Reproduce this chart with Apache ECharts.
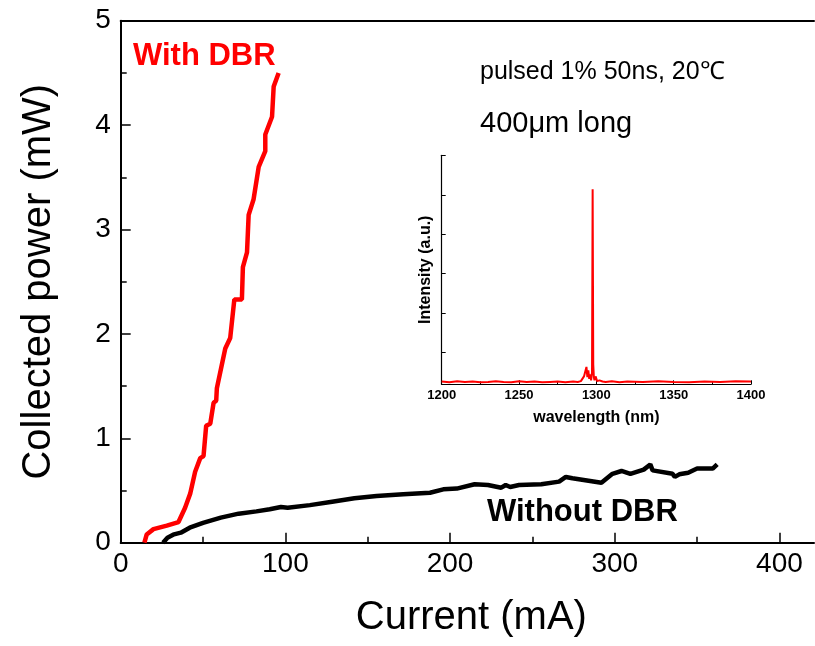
<!DOCTYPE html>
<html>
<head>
<meta charset="utf-8">
<script src="https://cdn.jsdelivr.net/npm/echarts@6/dist/echarts.min.js"></script>
<style>html,body{margin:0;padding:0;background:#fff}#c{width:815px;height:646px}</style>
</head>
<body>
<div id="c"></div>
<script>
// Main chart: with DBR (red)
const withDbrCurrent = [14.4,15.8,19.9,28.0,35.1,39.1,42.2,45.2,48.3,50.3,51.9,54.4,56.4,58.0,58.4,63.5,66.5,69.0,73.6,74.2,76.7,77.7,80.7,83.8,87.8,87.8,91.9,92.9,95.9];
const withDbrPower   = [0,0.079,0.13,0.164,0.198,0.335,0.47,0.68,0.81,0.83,1.12,1.14,1.34,1.36,1.48,1.86,1.96,2.33,2.33,2.64,2.78,3.14,3.29,3.60,3.75,3.91,4.08,4.37,4.50];
// Main chart: without DBR (black)
const withoutDbrCurrent = [25.7,28.4,32.4,36.5,41.9,50.0,60.8,71.6,82.4,90.5,97.3,101.4,114.9,128.4,141.9,155.4,171.6,187.8,195.9,204.1,214.9,223.0,231.1,233.8,236.5,241.9,255.4,266.2,270.3,274.3,291.9,298.6,304.1,309.5,317.6,321.6,323.0,335.1,336.5,339.2,344.6,350.0,359.5,362.2];
const withoutDbrPower   = [0,0.048,0.08,0.096,0.144,0.19,0.24,0.278,0.30,0.32,0.342,0.335,0.36,0.393,0.425,0.447,0.463,0.479,0.511,0.518,0.56,0.553,0.527,0.553,0.534,0.553,0.559,0.585,0.63,0.617,0.575,0.66,0.687,0.66,0.70,0.75,0.693,0.66,0.63,0.655,0.67,0.71,0.71,0.75];
// Inset spectrum
const specWavelength = [1200,1205,1210,1215,1220,1225,1230,1235,1240,1245,1250,1255,1260,1265,1270,1275,1280,1285,1288,1290,1291,1292,1293,1293.6,1294.2,1294.8,1295.4,1296,1296.6,1297.2,1297.6,1298.0,1298.4,1298.8,1299.5,1300.5,1302,1304,1306,1310,1315,1320,1330,1340,1350,1360,1370,1380,1390,1400];
const specIntensity  = [-0.73,-0.75,-0.72,-0.74,-0.73,-0.75,-0.74,-0.72,-0.74,-0.75,-0.72,-0.74,-0.73,-0.75,-0.74,-0.73,-0.75,-0.73,-0.74,-0.72,-0.68,-0.60,-0.56,-0.36,-0.62,-0.45,-0.66,-0.55,-0.70,-0.50,4.14,-0.30,-0.62,-0.70,-0.60,-0.72,-0.70,-0.73,-0.74,-0.72,-0.75,-0.73,-0.74,-0.72,-0.74,-0.75,-0.73,-0.74,-0.72,-0.73];
// Tick labels
const mainXTicks = [0,100,200,300,400];
const mainXMinor = [50,150,250,350];
const mainYTicks = [0,1,2,3,4,5];
const insetXTicks = [1200,1250,1300,1350,1400];
const insetYTicks = [0,1,2,3,4,5];

const F = "'Liberation Sans', Arial, sans-serif";
const zip = (a,b) => a.map((v,i)=>[v,b[i]]);

const chart = echarts.init(document.getElementById('c'));
chart.setOption({
  animation:false,
  backgroundColor:'#fff',
  grid:[
    {left:120.7, top:20.7, right:1, bottom:103.3},
    {left:441.7, top:155.3, right:64, bottom:261.7}
  ],
  xAxis:[
    {gridIndex:0, type:'value', min:0, max:421, position:'bottom',
     name:'Current (mA)', nameLocation:'middle', nameGap:55,
     nameTextStyle:{fontFamily:F, fontSize:40, color:'#000', padding:[0,0,0,8]},
     axisLine:{onZero:false, lineStyle:{color:'#000', width:2}},
     axisTick:{inside:true, length:10, customValues:mainXTicks, lineStyle:{color:'#000', width:1.5}},
     axisLabel:{customValues:mainXTicks, fontFamily:F, fontSize:28, color:'#000', margin:8},
     splitLine:{show:false}},
    {gridIndex:0, type:'value', min:0, max:421, position:'bottom',
     axisLine:{show:false},
     axisTick:{inside:true, length:6, customValues:mainXMinor, lineStyle:{color:'#000', width:1.5}},
     axisLabel:{show:false}, splitLine:{show:false}},
    {gridIndex:0, type:'value', min:0, max:421, position:'top',
     axisLine:{onZero:false, lineStyle:{color:'#000', width:2}},
     axisTick:{show:false}, axisLabel:{show:false}, splitLine:{show:false}},
    {gridIndex:1, type:'value', min:1200, max:1400, interval:50, position:'bottom',
     name:'wavelength (nm)', nameLocation:'middle', nameGap:25,
     nameTextStyle:{fontFamily:F, fontSize:16, fontWeight:'bold', color:'#000'},
     axisLine:{onZero:false, lineStyle:{color:'#000', width:1.2}},
     axisTick:{inside:true, length:4, lineStyle:{color:'#000', width:1}},
     minorTick:{show:true, splitNumber:2, length:3, lineStyle:{color:'#000', width:1}},
     axisLabel:{customValues:insetXTicks, formatter:(v)=>String(v), fontFamily:F, fontSize:13, fontWeight:'bold', color:'#000', margin:5},
     splitLine:{show:false}, minorSplitLine:{show:false}}
  ],
  yAxis:[
    {gridIndex:0, type:'value', min:0, max:5, interval:1,
     name:'Collected power (mW)', nameLocation:'middle', nameGap:62,
     nameTextStyle:{fontFamily:F, fontSize:40, color:'#000'},
     axisLine:{show:true, onZero:false, lineStyle:{color:'#000', width:2}},
     axisTick:{inside:true, length:10, lineStyle:{color:'#000', width:1.5}},
     minorTick:{show:true, splitNumber:2, length:6, lineStyle:{color:'#000', width:1.5}},
     axisLabel:{customValues:mainYTicks, fontFamily:F, fontSize:28, color:'#000', margin:10},
     splitLine:{show:false}, minorSplitLine:{show:false}},
    {gridIndex:1, type:'value', min:-0.8, max:5,
     name:'Intensity (a.u.)', nameLocation:'middle', nameGap:8,
     nameTextStyle:{fontFamily:F, fontSize:16, fontWeight:'bold', color:'#000'},
     axisLine:{show:true, onZero:false, lineStyle:{color:'#000', width:1.2}},
     axisTick:{inside:true, length:4, customValues:insetYTicks, lineStyle:{color:'#000', width:1}},
     axisLabel:{show:false}, splitLine:{show:false}}
  ],
  series:[
    {type:'line', xAxisIndex:0, yAxisIndex:0, data:zip(withDbrCurrent, withDbrPower),
     showSymbol:false, lineStyle:{color:'#ff0000', width:4.5}, z:3},
    {type:'line', xAxisIndex:0, yAxisIndex:0, data:zip(withoutDbrCurrent, withoutDbrPower),
     showSymbol:false, lineStyle:{color:'#000', width:4.5}, z:3},
    {type:'line', xAxisIndex:3, yAxisIndex:1, data:zip(specWavelength, specIntensity),
     showSymbol:false, lineStyle:{color:'#ff0000', width:2}, z:3}
  ],
  graphic:[
    {type:'text', left:133, top:41, style:{text:'With DBR', fill:'#ff0000', font:"bold 31px 'Liberation Sans', Arial, sans-serif"}},
    {type:'text', left:487, top:497, style:{text:'Without DBR', fill:'#000', font:"bold 31px 'Liberation Sans', Arial, sans-serif"}},
    {type:'text', left:480, top:60, style:{text:'pulsed 1% 50ns, 20\u2103', fill:'#000', font:"25px 'Liberation Sans', Arial, sans-serif"}},
    {type:'text', left:480, top:109, style:{text:'400\u03bcm long', fill:'#000', font:"29px 'Liberation Sans', Arial, sans-serif"}}
  ]
});
</script>
</body>
</html>
